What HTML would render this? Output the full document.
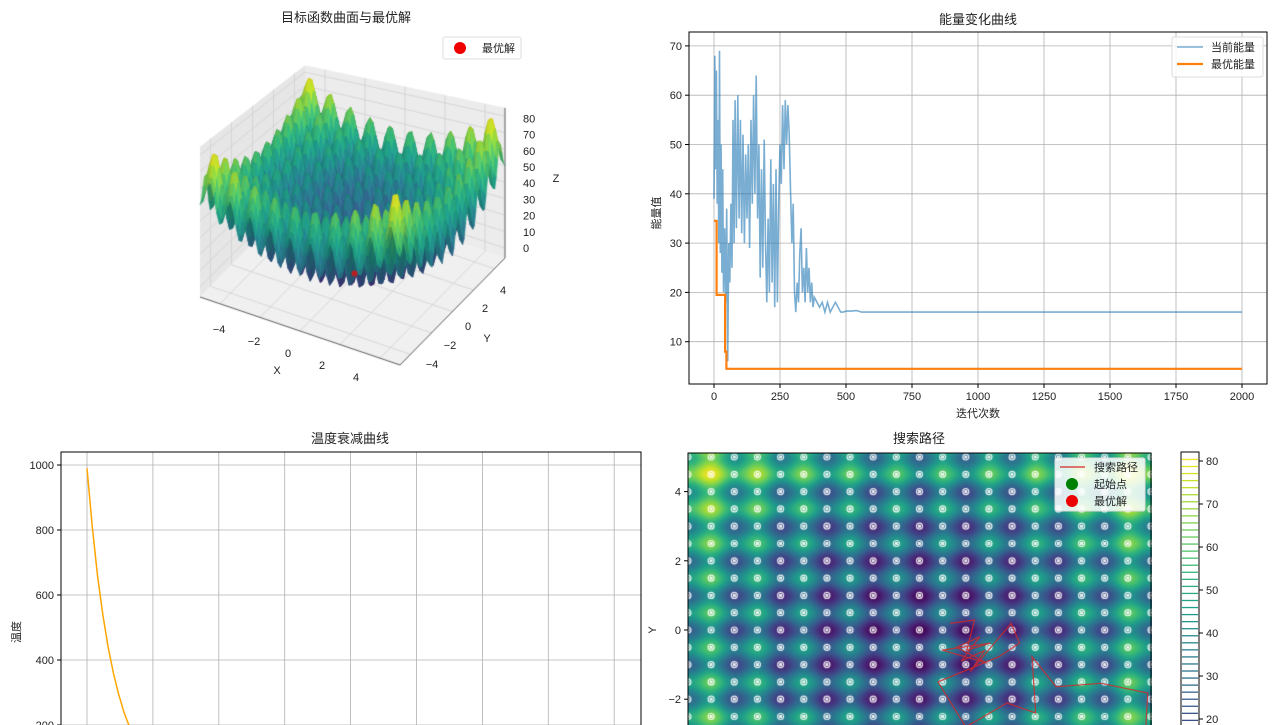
<!DOCTYPE html>
<html><head><meta charset="utf-8">
<style>
html,body{margin:0;padding:0;background:#fff;}
#root{position:relative;width:1280px;height:725px;overflow:hidden;font-family:"Liberation Sans","Noto Sans CJK SC",sans-serif;}
canvas{position:absolute;}
svg{position:absolute;left:0;top:0;}
text{font-family:"Liberation Sans","Noto Sans CJK SC",sans-serif;font-size:11px;fill:#222;}
.t{font-size:13px;}
</style></head>
<body>
<div id="root">
<canvas id="c3d" width="640" height="420" style="left:0;top:0"></canvas>
<canvas id="cmap" width="464" height="273" style="left:688px;top:453px"></canvas>
<svg id="svg" width="1280" height="725"></svg>
</div>
<script>
// ---------- data ----------
const energyIters = [0,3,6,9,12,15,18,21,24,27,30,33,36,40,44,48,52,56,60,64,68,72,76,80,85,90,95,100,105,110,115,120,125,130,135,140,145,150,155,160,165,170,175,180,185,190,195,200,205,210,215,220,225,230,235,240,245,250,255,260,265,270,275,280,285,290,295,300,305,310,315,320,325,330,335,340,345,350,355,360,365,370,375,380,390,400,410,420,430,440,450,460,470,480,490,500,520,540,560,580,600,2000];
const currentEnergy = [39,68,45,65,38,55,30,69,28,50,24,45,20,33,18,37,6,30,22,38,25,55,30,59,33,60,35,55,32,52,30,48,35,50,29,55,38,60,40,64,35,50,23,45,25,51,30,18,35,20,47,22,42,17,45,18,38,50,42,58,45,59,50,58,52,40,30,38,20,16,22,18,28,33,20,25,18,29,20,25,18,22,17,19,18,17,18,16,18,16,17,18,17,16,16,16.2,16.2,16.3,16,16,16,16];
const bestIters = [0,10,10,42,42,47,47,2000];
const bestEnergy = [34.5,34.5,19.5,19.5,8,8,4.5,4.5];
const energyXTicks = [0,250,500,750,1000,1250,1500,1750,2000];
const energyYTicks = [10,20,30,40,50,60,70];
const tempIters = [0,20,40,60,80,100,120,140,160,180,200];
const tempValues = [990,810,660,540,440,360,295,240,197,160,132];
const tempYTicks = [200,400,600,800,1000];
const tempXGrid = [0,250,500,750,1000,1250,1500,1750,2000];
const pathX = [0.66,1.19,1.02,1.54,0.49,1.46,0.8,1.3,0.9,1.4,1.1,1.98,2.16,1.72,0.4,1.0,1.89,2.51,2.43,2.95,3.92,4.93,4.89];
const pathY = [0.19,0.29,-0.58,-0.38,-0.58,-0.96,-0.5,-0.2,-0.9,-0.6,-1.2,0.19,-0.38,-0.77,-1.5,-2.8,-2.11,-2.40,-0.77,-1.64,-1.54,-1.82,-2.75];
const mapYTicks = [-2,0,2,4];
const cbarTicks = [20,30,40,50,60,70,80];
const surfTicks = [-4,-2,0,2,4];
const zTicks = [0,10,20,30,40,50,60,70,80];

function f(x,y){return 20+x*x+y*y-10*Math.cos(2*Math.PI*x)-10*Math.cos(2*Math.PI*y);}
const VS=[[68,1,84],[72,40,120],[62,74,137],[49,104,142],[38,130,142],[31,158,137],[53,183,121],[110,206,88],[181,222,43],[253,231,37]];
function vir(t){t=Math.max(0,Math.min(1,t));const s=t*9,i=Math.min(8,Math.floor(s)),r=s-i;const a=VS[i],b=VS[i+1];return [a[0]+(b[0]-a[0])*r,a[1]+(b[1]-a[1])*r,a[2]+(b[2]-a[2])*r];}
const NS='http://www.w3.org/2000/svg';
const svg=document.getElementById('svg');
function el(tag,attrs,txt){const e=document.createElementNS(NS,tag);for(const k in attrs)e.setAttribute(k,attrs[k]);if(txt!==undefined)e.textContent=txt;svg.appendChild(e);return e;}
function txt(x,y,s,anchor,name,cls,extra){const e=el('text',Object.assign({x:x,y:y,'text-anchor':anchor||'middle'},extra||{}),s);if(cls)e.setAttribute('class',cls);


return e;}

// ---------- 3D surface ----------
(function(){
const c=document.getElementById('c3d').getContext('2d');
function proj(x,y,z){const u=(x+5)/10,v=(y+5)/10,d=u-v,zs=1.65+0.28*d;return [200+200*u+105*v,297+68*u-107*v-(z+6)*zs];}
function poly(pts,fill,stroke){c.beginPath();pts.forEach((p,i)=>i?c.lineTo(p[0],p[1]):c.moveTo(p[0],p[1]));c.closePath();if(fill){c.fillStyle=fill;c.fill();}if(stroke){c.strokeStyle=stroke;c.lineWidth=0.6;c.stroke();}}
function line(a,b,col){c.beginPath();c.moveTo(a[0],a[1]);c.lineTo(b[0],b[1]);c.strokeStyle=col;c.lineWidth=0.8;c.stroke();}
const zt=85,zb=-6;
poly([proj(-5,-5,zb),proj(5,-5,zb),proj(5,5,zb),proj(-5,5,zb)],'#f0f0f0');
poly([proj(-5,5,zb),proj(5,5,zb),proj(5,5,zt),proj(-5,5,zt)],'#ececec');
poly([proj(-5,-5,zb),proj(-5,5,zb),proj(-5,5,zt),proj(-5,-5,zt)],'#e6e6e6');
const g='#d0d0d0';
surfTicks.forEach(t=>{line(proj(t,-5,zb),proj(t,5,zb),g);line(proj(-5,t,zb),proj(5,t,zb),g);
 line(proj(t,5,zb),proj(t,5,zt),g);line(proj(-5,t,zb),proj(-5,t,zt),g);});
zTicks.forEach(z=>{line(proj(-5,5,z),proj(5,5,z),g);line(proj(-5,-5,z),proj(-5,5,z),g);});
line(proj(-5,-5,zb),proj(5,-5,zb),'#333');line(proj(5,-5,zb),proj(5,5,zb),'#333');line(proj(5,5,zb),proj(5,5,zt),'#333');
const N=72,q=[];
for(let i=0;i<N;i++)for(let j=0;j<N;j++){
 const x0=-5+10*i/N,x1=-5+10*(i+1)/N,y0=-5+10*j/N,y1=-5+10*(j+1)/N;
 const z00=f(x0,y0),z10=f(x1,y0),z11=f(x1,y1),z01=f(x0,y1);
 const zm=(z00+z10+z11+z01)/4;
 const nx=(z10-z00+z11-z01)/2,ny=(z01-z00+z11-z10)/2;
 const sh=Math.max(0.7,Math.min(1.05,0.9+(ny-nx)*0.01));
 q.push({d:(x0+x1)/2-(y0+y1)/2,p:[proj(x0,y0,z00),proj(x1,y0,z10),proj(x1,y1,z11),proj(x0,y1,z01)],zm:zm,sh:sh});}
q.sort((a,b)=>a.d-b.d);
q.forEach(o=>{const col=vir(o.zm/80).map(v=>Math.round(Math.min(255,v*o.sh)));const s='rgb('+col+')';poly(o.p,s,s);});
const bp=proj(0,0,0);c.beginPath();c.arc(bp[0]+2,bp[1]+6,3,0,7);c.fillStyle='rgba(224,16,16,0.8)';c.fill();
})();
txt(346,22,'目标函数曲面与最优解','middle','surface-title','t');
const xl=[[219,333],[254,345],[288,357],[322,369],[356,381]];
surfTicks.forEach((t,i)=>txt(xl[i][0],xl[i][1],String(t).replace('-','−'),'middle','x-tick-label'));
txt(277,374,'X','middle','x-axis-title');
const yl=[[432,368],[450,349],[468,330],[485,312],[503,294]];
surfTicks.forEach((t,i)=>txt(yl[i][0],yl[i][1],String(t).replace('-','−'),'middle','y-tick-label'));
txt(487,342,'Y','middle','y-axis-title');
zTicks.forEach(z=>txt(523,252-z*1.62,String(z),'start','z-tick-label'));
txt(556,182,'Z','middle','z-axis-title');
(function(){const r=el('rect',{x:443,y:37,width:78,height:22,fill:'#fff',stroke:'#ddd',rx:2});


const d=el('circle',{cx:460,cy:48,r:6,fill:'#ee0000'});


txt(482,52,'最优解','start','legend-best-label');})();

// ---------- Energy chart ----------
(function(){
const L=689,R=1267,T=32,B=384;
const X=v=>714+(v/2000)*528, Y=v=>391-v*4.93;
energyXTicks.forEach(t=>{const g=el('line',{x1:X(t),x2:X(t),y1:T,y2:B,stroke:'#b0b0b0','stroke-width':0.8});


el('line',{x1:X(t),x2:X(t),y1:B,y2:B+4,stroke:'#000'});
txt(X(t),B+16,String(t),'middle','energy-x-tick');});
energyYTicks.forEach(t=>{const g=el('line',{x1:L,x2:R,y1:Y(t),y2:Y(t),stroke:'#b0b0b0','stroke-width':0.8});


el('line',{x1:L-4,x2:L,y1:Y(t),y2:Y(t),stroke:'#000'});
txt(L-7,Y(t)+4,String(t),'end','energy-y-tick');});
let d='';energyIters.forEach((it,i)=>{d+=(i?'L':'M')+X(it).toFixed(1)+' '+Y(currentEnergy[i]).toFixed(1);});
const p1=el('path',{d:d,fill:'none',stroke:'#1f77b4','stroke-opacity':0.6,'stroke-width':1.6});


let d2='';bestIters.forEach((it,i)=>{d2+=(i?'L':'M')+X(it).toFixed(1)+' '+Y(bestEnergy[i]).toFixed(1);});
const p2=el('path',{d:d2,fill:'none',stroke:'#ff7f0e','stroke-width':2.2});


const fr=el('rect',{x:L,y:T,width:R-L,height:B-T,fill:'none',stroke:'#000','stroke-width':1});


txt(978,24,'能量变化曲线','middle','energy-title','t');
txt(978,417,'迭代次数','middle','energy-x-title');
txt(660,213,'能量值','middle','energy-y-title','',{transform:'rotate(-90 660 213)'});
const lg=el('rect',{x:1172,y:37,width:91,height:40,fill:'#fff','fill-opacity':0.85,stroke:'#ddd',rx:2});


el('line',{x1:1177,x2:1203,y1:47,y2:47,stroke:'#1f77b4','stroke-opacity':0.6,'stroke-width':1.6});
el('line',{x1:1177,x2:1203,y1:64,y2:64,stroke:'#ff7f0e','stroke-width':2.2});
txt(1211,51,'当前能量','start','legend-current-label');
txt(1211,68,'最优能量','start','legend-best-energy-label');
})();

// ---------- Temperature chart ----------
(function(){
const L=61,R=641,T=452,B=740;
const X=v=>87+(v/250)*65.9, Y=v=>790-v*0.325;
tempXGrid.forEach(t=>{const g=el('line',{x1:X(t),x2:X(t),y1:T,y2:B,stroke:'#b0b0b0','stroke-width':0.8});

});
tempYTicks.forEach(t=>{const g=el('line',{x1:L,x2:R,y1:Y(t),y2:Y(t),stroke:'#b0b0b0','stroke-width':0.8});


el('line',{x1:L-4,x2:L,y1:Y(t),y2:Y(t),stroke:'#000'});
txt(L-7,Y(t)+4,String(t),'end','temp-y-tick');});
let d='';tempIters.forEach((it,i)=>{d+=(i?'L':'M')+X(it).toFixed(1)+' '+Y(tempValues[i]).toFixed(1);});
const p=el('path',{d:d,fill:'none',stroke:'#ffa500','stroke-width':1.5});


const fr=el('rect',{x:L,y:T,width:R-L,height:B-T,fill:'none',stroke:'#000','stroke-width':1});


txt(350,443,'温度衰减曲线','middle','temp-title','t');
txt(20,632,'温度','middle','temp-y-title','',{transform:'rotate(-90 20 632)'});
})();

// ---------- Contour / search path ----------
(function(){
const cv=document.getElementById('cmap'),c=cv.getContext('2d');
const w=cv.width,h=cv.height,img=c.createImageData(w,h);
for(let py=0;py<h;py++)for(let px=0;px<w;px++){
 const x=-5+px/46.3,y=(177-py)/34.6;const col=vir(f(x,y)/82);const k=(py*w+px)*4;
 img.data[k]=col[0];img.data[k+1]=col[1];img.data[k+2]=col[2];img.data[k+3]=255;}
c.putImageData(img,0,0);
c.strokeStyle='rgba(255,255,255,0.9)';c.fillStyle='rgba(255,255,255,0.9)';c.lineWidth=1.2;
for(let i=0;i<=20;i++)for(let j=-6;j<=10;j++){
 const x=-5+i*0.5,y=j*0.5;const px=(x+5)*46.3,py=177-y*34.6;
 c.beginPath();c.arc(px,py,3,0,7);c.stroke();c.fillRect(px-1.5,py-1.5,3,3);}
})();
(function(){
const L=688,R=1151,T=453,B=740;
const X=v=>688+(v+5)*46.3, Y=v=>630-v*34.6;
mapYTicks.forEach(t=>{el('line',{x1:L-4,x2:L,y1:Y(t),y2:Y(t),stroke:'#000'});
txt(L-7,Y(t)+4,String(t).replace('-','−'),'end','map-y-tick');});
let d='';pathX.forEach((v,i)=>{d+=(i?'L':'M')+X(v).toFixed(1)+' '+Y(pathY[i]).toFixed(1);});
const p=el('path',{d:d,fill:'none',stroke:'#d62728','stroke-width':1.2,'stroke-opacity':0.8});


const fr=el('rect',{x:L,y:T,width:R-L,height:B-T,fill:'none',stroke:'#000','stroke-width':1});


txt(919,443,'搜索路径','middle','map-title','t');
txt(656,630,'Y','middle','map-y-title','',{transform:'rotate(-90 656 630)'});
const lg=el('rect',{x:1055,y:458,width:90,height:53,fill:'#fff','fill-opacity':0.85,stroke:'#ddd',rx:2});


el('line',{x1:1060,x2:1085,y1:467,y2:467,stroke:'#d62728','stroke-width':1.2});
el('circle',{cx:1072,cy:484,r:6,fill:'#008000'});
el('circle',{cx:1072,cy:501,r:6,fill:'#ee0000'});
txt(1094,471,'搜索路径','start','legend-path-label');
txt(1094,488,'起始点','start','legend-start-label');
txt(1094,505,'最优解','start','legend-best-path-label');
const cb=el('rect',{x:1181,y:452,width:18,height:290,fill:'#fff',stroke:'#000','stroke-width':1});


const CY=v=>719-(v-20)*4.3;
for(let v=0;v<=82;v+=1.64){const yy=CY(v);if(yy<453||yy>724)continue;const col=vir(v/82);
const ln=el('line',{x1:1182,x2:1198,y1:yy,y2:yy,stroke:'rgb('+col.map(Math.round)+')','stroke-width':1.3});

}
cbarTicks.forEach(t=>{el('line',{x1:1199,x2:1203,y1:CY(t),y2:CY(t),stroke:'#000'});
txt(1206,CY(t)+4,String(t),'start','colorbar-tick');});
})();
</script>
</body></html>
